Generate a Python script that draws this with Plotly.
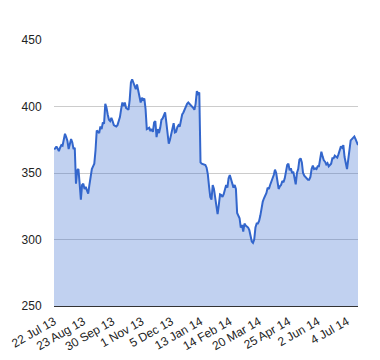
import plotly.graph_objects as go

# Daily closing values, ~250 trading days
values = [
    368, 368.5, 370, 368, 366.5, 369, 371, 370.5, 374, 379.5,
    377, 374, 368, 371, 375.5, 373, 368, 369, 342, 352,
    353, 342, 330, 341, 342, 338, 339.5, 337, 334.5, 341,
    349, 353, 355, 357, 367, 382, 381, 380, 385, 383,
    388, 387, 402, 399, 394, 390, 389, 391.5, 389, 386,
    385.5, 385, 386, 389, 392, 398, 403, 400.5, 403, 399,
    398, 397.5, 405, 418, 420.5, 418, 415, 413, 416.5, 412,
    408, 403, 406.5, 405, 406, 398, 383, 383.5, 384, 381.5,
    383, 381, 388, 389, 377, 383, 380, 384, 390, 391,
    393, 395.5, 388, 380, 372, 375, 379, 382, 387.5, 380.5,
    381, 384.5, 386, 385, 390, 394, 395.5, 398, 400, 402,
    403, 402, 401, 400.5, 399, 397.5, 402, 411.5, 409.5, 410.5,
    358, 357, 356.5, 356.5, 356, 354, 349, 340, 332, 330,
    341, 338, 331, 325, 319, 326, 334, 333.5, 332, 334,
    339, 341, 339, 346, 348.5, 345, 342, 339, 341, 338,
    320, 317.5, 316, 309, 311, 306, 312, 310.5, 309.5, 309,
    307, 302, 298.5, 297.5, 300, 309, 312, 312, 314, 318,
    324, 328.5, 331, 333, 335, 339, 338, 341, 343.5, 344.5,
    348.5, 352.5, 350, 344, 338, 340, 341, 344, 343, 346,
    351, 356, 357, 352, 353.5, 350, 351, 346, 341.5, 350,
    353, 360, 361, 358, 350, 348, 347, 346, 345, 345,
    347, 353, 355.5, 353, 353.5, 353, 355, 355, 362, 366,
    362.5, 359.5, 358.5, 356.5, 357.5, 355, 356, 357, 361, 361,
    363, 362.5, 361.5, 364, 368, 370, 369, 371, 362, 356,
    353, 360, 368, 374.5, 375.5, 377, 377.5, 375.5, 372.5, 371,
]

tick_labels = ["22 Jul 13", "23 Aug 13", "30 Sep 13", "1 Nov 13", "5 Dec 13",
               "13 Jan 14", "14 Feb 14", "20 Mar 14", "25 Apr 14", "2 Jun 14",
               "4 Jul 14"]
label_step = 24
y_ticks = [250, 300, 350, 400, 450]

x = list(range(len(values)))
tick_pos = [i * label_step for i in range(len(tick_labels))]

font_family = "Arial, 'Liberation Sans', sans-serif"

fig = go.Figure()
fig.add_trace(go.Scatter(
    x=x, y=values, mode="lines",
    line=dict(color="#3366cc", width=2),
    fill="tozeroy", fillcolor="rgba(51,102,204,0.3)",
    hoverinfo="skip",
))

# The page body adds an 8px offset; the figure is sized to compensate.
fig.update_layout(
    width=372, height=352,
    margin=dict(l=46, r=22, t=32, b=54, autoexpand=False),
    paper_bgcolor="white", plot_bgcolor="white",
    showlegend=False,
    font=dict(family=font_family, size=12, color="#222222"),
)
fig.update_xaxes(
    automargin=False,
    range=[0, len(values) - 1],
    tickvals=tick_pos, ticktext=tick_labels,
    tickangle=-30,
    showgrid=False, zeroline=False,
    showline=True, linecolor="#333333", linewidth=1,
    ticks="outside", ticklen=3, tickcolor="rgba(0,0,0,0)",
    tickfont=dict(size=12, color="#222222"),
)
fig.update_yaxes(
    automargin=False,
    range=[250, 450],
    tickvals=y_ticks,
    showgrid=True, gridcolor="#cccccc", gridwidth=1,
    zeroline=False, showline=False,
    ticks="outside", ticklen=9, tickcolor="rgba(0,0,0,0)",
    tickfont=dict(size=12, color="#222222"),
)

fig.write_html("out.html")
